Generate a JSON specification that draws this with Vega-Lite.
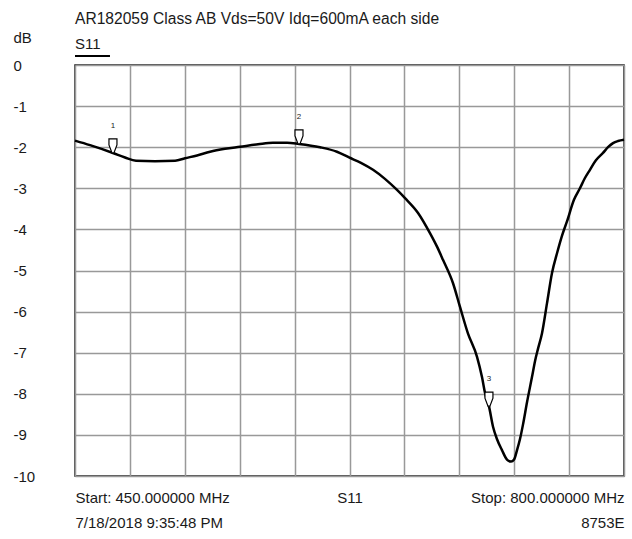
{
  "$schema": "https://vega.github.io/schema/vega-lite/v6.json",
  "width": 549,
  "height": 411,
  "autosize": {"type": "none"},
  "padding": {"left": 75, "top": 65, "right": 8, "bottom": 63},
  "background": "white",
  "title": {
    "text": "AR182059 Class AB Vds=50V Idq=600mA each side",
    "anchor": "start",
    "frame": "group",
    "offset": -10,
    "baseline": "alphabetic",
    "font": "Liberation Sans",
    "fontSize": 15.6,
    "fontWeight": "normal",
    "color": "#1a1a1a"
  },
  "config": {
    "view": {"stroke": "#1a1a1a", "strokeWidth": 1.5},
    "font": "Liberation Sans",
    "axis": {
      "labelFont": "Liberation Sans",
      "labelFontSize": 15,
      "labelColor": "#1a1a1a",
      "titleFont": "Liberation Sans",
      "titleColor": "#1a1a1a",
      "gridColor": "#999999",
      "gridWidth": 1.5,
      "gridOpacity": 1,
      "ticks": false,
      "domain": false
    }
  },
  "datasets": {
    "s11": [
      {"freq_mhz": 450.0, "s11_db": -1.84},
      {"freq_mhz": 459.6, "s11_db": -1.95},
      {"freq_mhz": 474.2, "s11_db": -2.14},
      {"freq_mhz": 481.9, "s11_db": -2.25},
      {"freq_mhz": 488.9, "s11_db": -2.33},
      {"freq_mhz": 501.0, "s11_db": -2.34},
      {"freq_mhz": 513.8, "s11_db": -2.33},
      {"freq_mhz": 520.1, "s11_db": -2.27},
      {"freq_mhz": 527.8, "s11_db": -2.2},
      {"freq_mhz": 536.1, "s11_db": -2.11},
      {"freq_mhz": 545.6, "s11_db": -2.04},
      {"freq_mhz": 555.2, "s11_db": -1.99},
      {"freq_mhz": 566.7, "s11_db": -1.93},
      {"freq_mhz": 576.2, "s11_db": -1.89},
      {"freq_mhz": 585.2, "s11_db": -1.89},
      {"freq_mhz": 592.8, "s11_db": -1.92},
      {"freq_mhz": 606.2, "s11_db": -2.0},
      {"freq_mhz": 617.0, "s11_db": -2.11},
      {"freq_mhz": 624.7, "s11_db": -2.25},
      {"freq_mhz": 632.3, "s11_db": -2.38},
      {"freq_mhz": 640.0, "s11_db": -2.55},
      {"freq_mhz": 647.6, "s11_db": -2.77},
      {"freq_mhz": 655.3, "s11_db": -3.04},
      {"freq_mhz": 660.4, "s11_db": -3.24},
      {"freq_mhz": 668.7, "s11_db": -3.6},
      {"freq_mhz": 676.3, "s11_db": -4.09},
      {"freq_mhz": 680.8, "s11_db": -4.42},
      {"freq_mhz": 684.6, "s11_db": -4.74},
      {"freq_mhz": 691.0, "s11_db": -5.31},
      {"freq_mhz": 695.4, "s11_db": -5.88},
      {"freq_mhz": 700.5, "s11_db": -6.53},
      {"freq_mhz": 706.3, "s11_db": -7.1},
      {"freq_mhz": 709.5, "s11_db": -7.6},
      {"freq_mhz": 711.4, "s11_db": -7.98},
      {"freq_mhz": 713.9, "s11_db": -8.3},
      {"freq_mhz": 716.5, "s11_db": -8.8},
      {"freq_mhz": 719.0, "s11_db": -9.1},
      {"freq_mhz": 722.2, "s11_db": -9.37},
      {"freq_mhz": 725.4, "s11_db": -9.6},
      {"freq_mhz": 728.0, "s11_db": -9.65},
      {"freq_mhz": 729.9, "s11_db": -9.6},
      {"freq_mhz": 731.8, "s11_db": -9.37},
      {"freq_mhz": 733.7, "s11_db": -9.1},
      {"freq_mhz": 735.6, "s11_db": -8.75},
      {"freq_mhz": 738.2, "s11_db": -8.2},
      {"freq_mhz": 741.3, "s11_db": -7.6},
      {"freq_mhz": 743.3, "s11_db": -7.2},
      {"freq_mhz": 745.2, "s11_db": -6.9},
      {"freq_mhz": 747.7, "s11_db": -6.53},
      {"freq_mhz": 750.9, "s11_db": -5.8},
      {"freq_mhz": 754.1, "s11_db": -5.06},
      {"freq_mhz": 757.3, "s11_db": -4.58},
      {"freq_mhz": 760.5, "s11_db": -4.15},
      {"freq_mhz": 763.7, "s11_db": -3.8},
      {"freq_mhz": 768.1, "s11_db": -3.28},
      {"freq_mhz": 771.9, "s11_db": -3.0},
      {"freq_mhz": 775.1, "s11_db": -2.75},
      {"freq_mhz": 778.3, "s11_db": -2.55},
      {"freq_mhz": 782.1, "s11_db": -2.32},
      {"freq_mhz": 786.6, "s11_db": -2.14},
      {"freq_mhz": 789.8, "s11_db": -2.0},
      {"freq_mhz": 793.0, "s11_db": -1.9},
      {"freq_mhz": 796.2, "s11_db": -1.85},
      {"freq_mhz": 800.0, "s11_db": -1.82}
    ],
    "markers": [
      {"marker": "1", "freq_mhz": 474.2, "s11_db": -2.14},
      {"marker": "2", "freq_mhz": 592.8, "s11_db": -1.92},
      {"marker": "3", "freq_mhz": 713.9, "s11_db": -8.3}
    ],
    "trace_label": [
      {"label": "S11", "freq_mhz": 450, "s11_db": 0.39}
    ],
    "trace_underline": [
      {"freq_mhz": 450, "freq_end": 472.3, "s11_db": 0.22}
    ]
  },
  "layer": [
    {
      "data": {"name": "s11"},
      "mark": {"type": "line", "color": "#000000", "strokeWidth": 2.5, "interpolate": "monotone"},
      "encoding": {
        "x": {
          "field": "freq_mhz",
          "type": "quantitative",
          "scale": {"domain": [450, 800], "nice": false, "zero": false},
          "axis": {
            "values": [450, 485, 520, 555, 590, 625, 660, 695, 730, 765, 800],
            "labelExpr": "datum.value == 450 ? ['Start: 450.000000 MHz', '7/18/2018 9:35:48 PM'] : datum.value == 625 ? 'S11' : datum.value == 800 ? ['Stop: 800.000000 MHz', '8753E'] : ''",
            "labelFlush": true,
            "labelOverlap": false,
            "labelPadding": 14,
            "labelLineHeight": 25,
            "labelBaseline": "top",
            "grid": true,
            "title": null
          }
        },
        "y": {
          "field": "s11_db",
          "type": "quantitative",
          "scale": {"domain": [-10, 0], "nice": false, "zero": false},
          "axis": {
            "values": [0, -1, -2, -3, -4, -5, -6, -7, -8, -9, -10],
            "labelExpr": "'' + datum.value",
            "labelAlign": "left",
            "labelBaseline": "middle",
            "labelPadding": 62,
            "labelFlush": false,
            "labelOverlap": false,
            "grid": true,
            "title": "dB",
            "titleAngle": 0,
            "titleX": -62,
            "titleY": -23,
            "titleAlign": "left",
            "titleBaseline": "alphabetic",
            "titleFontSize": 15,
            "titleFontWeight": "normal"
          }
        }
      }
    },
    {
      "data": {"name": "markers"},
      "mark": {
        "type": "point",
        "shape": "M-0.5,-1.75 L0.5,-1.75 L0.5,-1 L0.12,0 L-0.12,0 L-0.5,-1 Z",
        "size": 256,
        "filled": true,
        "fill": "#ffffff",
        "stroke": "#000000",
        "strokeWidth": 1.2,
        "opacity": 1
      },
      "encoding": {
        "x": {"field": "freq_mhz", "type": "quantitative"},
        "y": {"field": "s11_db", "type": "quantitative"}
      }
    },
    {
      "data": {"name": "markers"},
      "mark": {"type": "text", "fontSize": 8, "dy": -27, "baseline": "middle", "align": "center", "color": "#1a1a1a", "font": "Liberation Sans"},
      "encoding": {
        "x": {"field": "freq_mhz", "type": "quantitative"},
        "y": {"field": "s11_db", "type": "quantitative"},
        "text": {"field": "marker"}
      }
    },
    {
      "data": {"name": "trace_label"},
      "mark": {"type": "text", "fontSize": 15, "baseline": "alphabetic", "align": "left", "color": "#1a1a1a", "font": "Liberation Sans"},
      "encoding": {
        "x": {"field": "freq_mhz", "type": "quantitative"},
        "y": {"field": "s11_db", "type": "quantitative"},
        "text": {"field": "label"}
      }
    },
    {
      "data": {"name": "trace_underline"},
      "mark": {"type": "rule", "color": "#000000", "strokeWidth": 2},
      "encoding": {
        "x": {"field": "freq_mhz", "type": "quantitative"},
        "x2": {"field": "freq_end"},
        "y": {"field": "s11_db", "type": "quantitative"}
      }
    }
  ]
}
